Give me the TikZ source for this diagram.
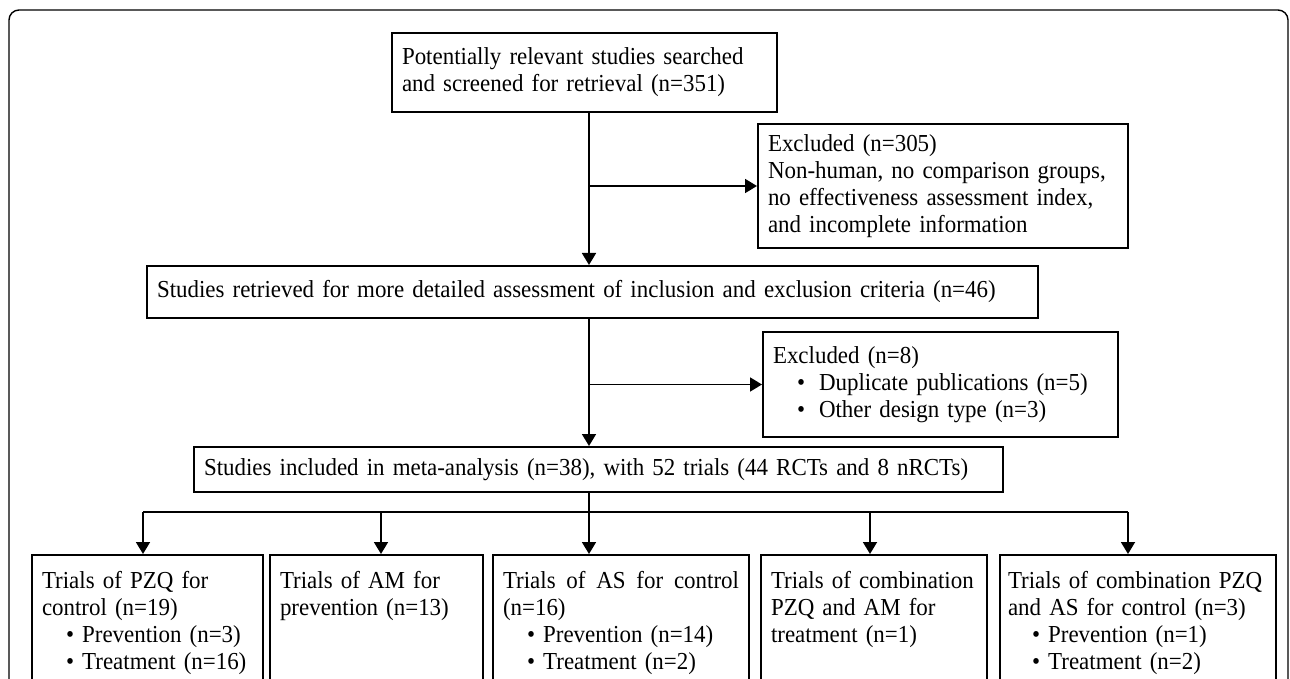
\documentclass[tikz,border=0pt]{standalone}
\usepackage{fontspec}
\setmainfont[FakeStretch=0.94]{Liberation Serif}
\usetikzlibrary{arrows.meta}
\hyphenpenalty=10000

\begin{document}
\begin{tikzpicture}[
  box/.style={draw, line width=1pt, anchor=north west, align=left,
              inner xsep=5pt, inner ysep=0pt,
              font=\fontsize{12.2pt}{13.5pt}\selectfont},
  trial/.style={box, inner ysep=8pt, text depth=60pt},
  arr/.style={line width=0.9pt, -{Triangle[length=6pt, width=7pt]}}]
\useasboundingbox (0, 0) rectangle (645pt, -339.5pt);
\clip (0, 0) rectangle (645pt, -339.5pt);
\draw [line width=0.7pt, rounded corners=5pt]
  (4.5pt, -360pt) -- (4.5pt, -5pt) -- (644pt, -5pt) -- (644pt, -360pt);
% screening
\node (search) [box, text width=182.5pt, minimum height=39.5pt] at (195.5pt, -16pt)
  {Potentially relevant studies searched\\and screened for retrieval (n=351)};
\node (excl1) [box, text width=175pt, minimum height=62pt] at (378.5pt, -61.5pt)
  {Excluded (n=305)\\Non-human, no comparison groups,\\no effectiveness assessment index,\\and incomplete information};
\node (retrieved) [box, text width=435.5pt, minimum height=26pt] at (73pt, -132.5pt)
  {Studies retrieved for more detailed assessment of inclusion and exclusion criteria (n=46)};
\node (excl2) [box, text width=167.5pt, minimum height=52.5pt] at (381pt, -165.5pt)
  {Excluded (n=8)\\
   \hspace*{12pt}\textbullet\hspace{7pt}Duplicate publications (n=5)\\
   \hspace*{12pt}\textbullet\hspace{7pt}Other design type (n=3)};
\node (included) [box, text width=394.5pt, minimum height=22.5pt] at (96.5pt, -223pt)
  {Studies included in meta-analysis (n=38), with 52 trials (44 RCTs and 8 nRCTs)};
% trial groups
\node (pzq) [trial, text width=105.5pt] at (15.5pt, -277pt)
  {Trials of PZQ for\\control (n=19)\\
   \hspace*{12pt}\textbullet\ Prevention (n=3)\\
   \hspace*{12pt}\textbullet\ Treatment (n=16)};
\node (am) [trial, text width=96.5pt] at (134.5pt, -277pt)
  {Trials of AM for\\prevention (n=13)};
\node (as) [trial, text width=118pt] at (246pt, -277pt)
  {Trials\hfill of\hfill AS\hfill for\hfill control\\(n=16)\\
   \hspace*{12pt}\textbullet\ Prevention (n=14)\\
   \hspace*{12pt}\textbullet\ Treatment (n=2)};
\node (pzqam) [trial, text width=103pt] at (380pt, -277pt)
  {Trials of combination\\PZQ and AM for\\treatment (n=1)};
\node (pzqas) [trial, inner xsep=4pt, text width=130pt] at (499.5pt, -277pt)
  {Trials of combination PZQ\\and AS for control (n=3)\\
   \hspace*{12pt}\textbullet\ Prevention (n=1)\\
   \hspace*{12pt}\textbullet\ Treatment (n=2)};
% connectors
\coordinate (trunk) at (294.5pt, 0);
\coordinate (bus) at (0, -256pt);
\draw [arr] (search.south -| trunk) -- (retrieved.north -| trunk);
\draw [arr] (excl1.west -| trunk) -- (excl1.west);
\draw [arr] (retrieved.south -| trunk) -- (included.north -| trunk);
\draw [arr] (excl2.west -| trunk) -- (excl2.west);
\draw [line width=0.9pt] (included.south -| trunk) -- (bus -| trunk);
\draw [line width=0.9pt] (71.5pt, -256pt) coordinate (bus1) -- (564pt, -256pt) coordinate (bus5);
\draw [arr] (bus1) -- (bus1 |- pzq.north);
\draw [arr] (190.5pt, -256pt) coordinate (bus2) -- (bus2 |- am.north);
\draw [arr] (bus -| trunk) -- (trunk |- as.north);
\draw [arr] (435pt, -256pt) coordinate (bus4) -- (bus4 |- pzqam.north);
\draw [arr] (bus5) -- (bus5 |- pzqas.north);
\end{tikzpicture}
\end{document}
